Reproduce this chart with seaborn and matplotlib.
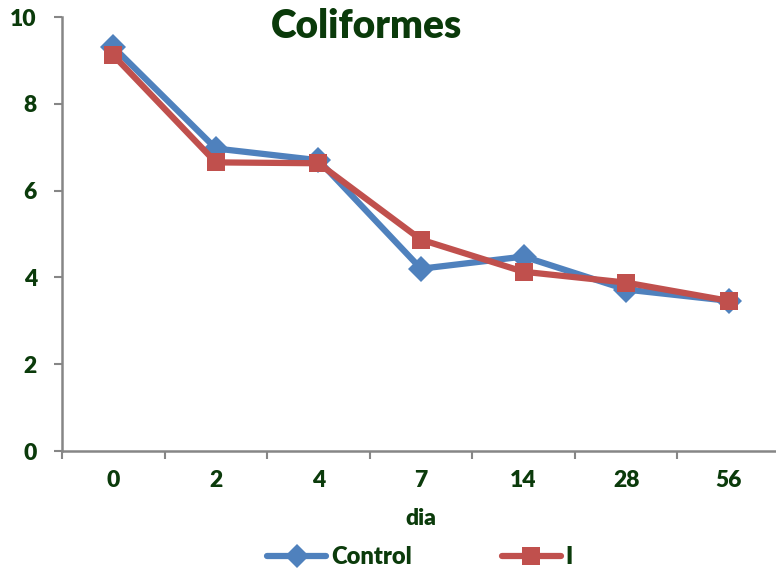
import numpy as np
import pandas as pd
import matplotlib
matplotlib.use("Agg")
import matplotlib.pyplot as plt
import seaborn as sns

# Coliform counts by sampling day
days = ["0", "2", "4", "7", "14", "28", "56"]
control = [9.31, 6.97, 6.70, 4.20, 4.48, 3.72, 3.46]
treat_i = [9.12, 6.65, 6.63, 4.87, 4.13, 3.88, 3.46]
series_names = ["Control", "I"]
y_ticks = [0, 2, 4, 6, 8, 10]

df = pd.DataFrame({
    "dia": days * 2,
    "pos": list(range(len(days))) * 2,
    "valor": control + treat_i,
    "serie": [series_names[0]] * len(days) + [series_names[1]] * len(days),
})

sns.set_theme(style="white")
plt.rcParams["font.family"] = ["Lato", "DejaVu Sans"]
plt.rcParams["font.weight"] = "bold"

text_color = "#0B3B0B"
axis_color = "#868686"
palette = {"Control": "#4F81BD", "I": "#C0504D"}
markers = {"Control": "D", "I": "s"}

fig = plt.figure(figsize=(7.76, 5.70), dpi=100)
ax = fig.add_axes([62 / 776, 1 - 451 / 570, (780 - 62) / 776, (451 - 17) / 570])

sns.lineplot(data=df, x="pos", y="valor", hue="serie", style="serie",
             markers=markers, dashes=False, palette=palette,
             linewidth=4.5, markersize=13, markeredgewidth=0,
             ax=ax, legend=False)

ax.set_xlim(-0.5, len(days) - 0.5)
ax.set_ylim(0, 10)
ax.set_xticks(np.arange(len(days)))
ax.set_xticklabels(days)
ax.set_xticks(np.arange(len(days) + 1) - 0.5, minor=True)
ax.set_yticks(y_ticks)
ax.tick_params(axis="x", which="major", length=0, pad=14,
               labelsize=16.5, labelcolor=text_color)
ax.tick_params(axis="x", which="minor", length=6, width=1.5, color=axis_color,
               direction="out", bottom=True)
ax.tick_params(axis="y", length=6, width=1.5, color=axis_color, direction="out",
               left=True, pad=12, labelsize=16.5, labelcolor=text_color)
for lbl in ax.get_xticklabels() + ax.get_yticklabels():
    lbl.set_fontweight("heavy")

for side in ["top", "right"]:
    ax.spines[side].set_visible(False)
for side in ["left", "bottom"]:
    ax.spines[side].set_color(axis_color)
    ax.spines[side].set_linewidth(1.8)

ax.set_xlabel("dia", fontsize=16.5, fontweight="heavy", color=text_color, labelpad=12)
ax.set_ylabel("")

fig.text(366 / 776, 1 - 26 / 570, "Coliformes", ha="center", va="center",
         fontsize=28, fontweight="heavy", color="#0A3A0A")

handles = [
    plt.Line2D([], [], color=palette[n], marker=markers[n], linewidth=4.5,
               markersize=13 if n == "I" else 12, markeredgewidth=0)
    for n in series_names
]
leg = fig.legend(handles, series_names, loc="center", ncol=2,
                 bbox_to_anchor=(420 / 776, 1 - 557 / 570), frameon=False,
                 handlelength=2.5, handletextpad=0.2, columnspacing=3.8,
                 prop={"size": 17, "weight": "heavy"})
for t in leg.get_texts():
    t.set_color(text_color)

fig.savefig("out.png", dpi=100)
